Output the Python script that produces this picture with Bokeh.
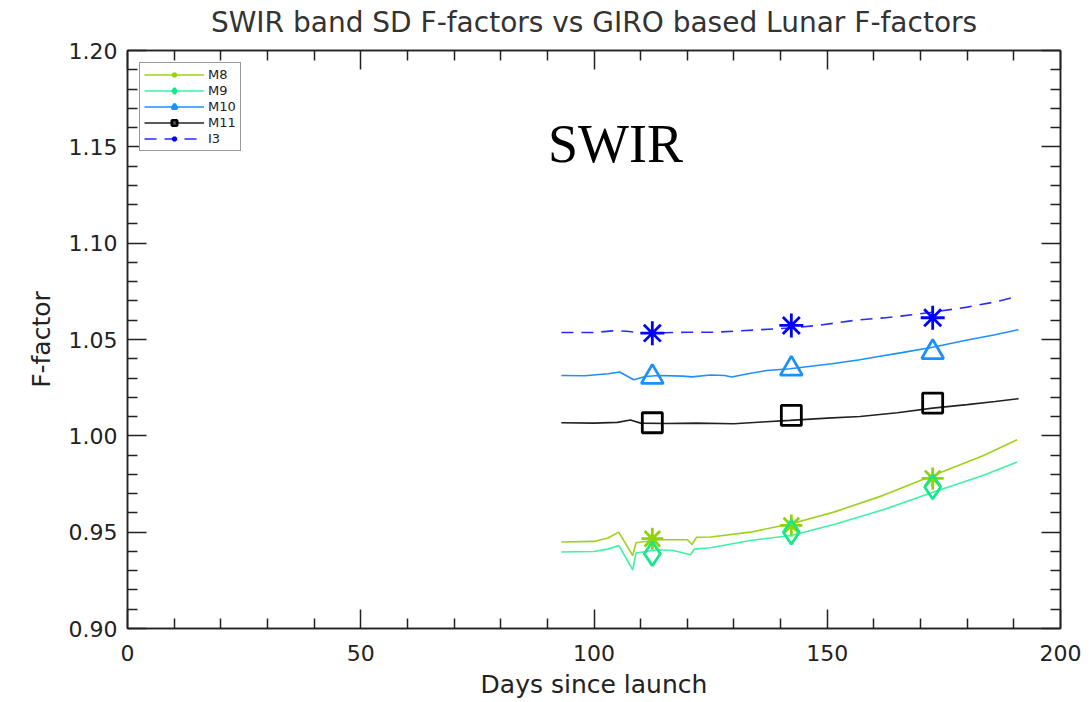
from bokeh.plotting import figure
from bokeh.models import (Range1d, LinearAxis, FixedTicker, PrintfTickFormatter,
                          Legend, LegendItem, ColumnDataSource, CustomLabelingPolicy)
from bokeh.core.properties import value
from bokeh.embed import file_html
from bokeh.resources import INLINE

# ---------------- data ----------------
title_text = "SWIR band SD F-factors vs GIRO based Lunar F-factors"
x_label = "Days since launch"
y_label = "F-factor"
band_names = ["M8", "M9", "M10", "M11", "I3"]

x_major_ticks = [0, 50, 100, 150, 200]
x_minor_ticks = [10, 20, 30, 40, 60, 70, 80, 90, 110, 120, 130, 140, 160, 170, 180, 190]
y_major_ticks = [0.90, 0.95, 1.00, 1.05, 1.10, 1.15, 1.20]
y_minor_ticks = [0.91, 0.92, 0.93, 0.94, 0.96, 0.97, 0.98, 0.99, 1.01, 1.02, 1.03, 1.04,
                 1.06, 1.07, 1.08, 1.09, 1.11, 1.12, 1.13, 1.14, 1.16, 1.17, 1.18, 1.19]

# SD based F-factor trends (days since launch, F-factor)
m8_days = [93, 100, 103, 105.3, 108.3, 109, 114, 120, 121, 122, 125, 133.5, 142.3, 151.4, 162, 172.8, 183.5, 190.7]
m8_vals = [0.9449, 0.9452, 0.9470, 0.9500, 0.9379, 0.9445, 0.9461, 0.9461, 0.9436, 0.9474, 0.9475, 0.9500, 0.9544, 0.9604, 0.9691, 0.9795, 0.9898, 0.9980]

m9_days = [93, 100, 103, 105.3, 108.3, 109, 113.6, 117, 120.7, 121.5, 125, 133.5, 142.3, 151.4, 162, 172.8, 183.5, 190.7]
m9_vals = [0.9397, 0.9400, 0.9412, 0.9431, 0.9305, 0.9392, 0.9409, 0.9405, 0.9383, 0.9412, 0.9419, 0.9457, 0.9483, 0.9540, 0.9616, 0.9708, 0.9795, 0.9864]

m10_days = [93, 98, 103, 105.5, 108.5, 111, 114, 119, 121, 125, 128, 129.5, 133, 137, 142, 151, 157, 161, 166, 172.6, 180, 186, 191]
m10_vals = [1.0313, 1.0312, 1.0322, 1.0331, 1.0291, 1.0308, 1.0313, 1.0310, 1.0306, 1.0316, 1.0313, 1.0305, 1.0322, 1.0339, 1.0348, 1.0374, 1.0395, 1.0412, 1.0432, 1.0460, 1.0497, 1.0525, 1.0551]

m11_days = [93, 100, 105, 107.8, 110, 115, 122, 130, 136, 142, 150, 157, 165, 172.6, 180, 186, 191]
m11_vals = [1.0068, 1.0066, 1.0070, 1.0082, 1.0066, 1.0064, 1.0066, 1.0063, 1.0072, 1.0080, 1.0092, 1.0100, 1.0120, 1.0144, 1.0162, 1.0178, 1.0193]

i3_days = [93, 100, 104, 107, 110, 115, 120, 126, 135, 142, 148, 156, 162, 167, 172, 180, 186, 191]
i3_vals = [1.0536, 1.0536, 1.0545, 1.0543, 1.0534, 1.0535, 1.0538, 1.0538, 1.0550, 1.0560, 1.0573, 1.0600, 1.0612, 1.0625, 1.0640, 1.0668, 1.0695, 1.0725]

# GIRO lunar based F-factors
lunar_days = [112.5, 142.3, 172.6]
m8_lunar = [0.9466, 0.9535, 0.9779]
m9_lunar = [0.9388, 0.9500, 0.9734]
m10_lunar = [1.0305, 1.0348, 1.0434]
m11_lunar = [1.0068, 1.0106, 1.0170]
i3_lunar = [1.0533, 1.0573, 1.0613]

annotation_text = "SWIR"
annotation_x = [104.6]
annotation_y = [1.1517]

# ---------------- figure ----------------
W, H = 1089, 702
p = figure(width=W, height=H, output_backend="svg", toolbar_location=None,
           x_range=Range1d(0, 200), y_range=Range1d(0.90, 1.20),
           min_border_left=127, min_border_right=29, min_border_top=50, min_border_bottom=74)
p.xgrid.visible = False
p.ygrid.visible = False
p.outline_line_color = "#222222"
p.outline_line_width = 1.5
p.background_fill_color = "white"
p.border_fill_color = "white"

tick_font = "DejaVu Sans"
tick_color = "#222222"

no_labels = CustomLabelingPolicy(code="""
for (const i of indices) { indices.unset(i) }
return indices
""")

def style_axis(ax, show_labels):
    ax.major_tick_in = 19
    ax.major_tick_out = 0
    ax.minor_tick_in = 10
    ax.minor_tick_out = 0
    ax.major_tick_line_color = "#222222"
    ax.minor_tick_line_color = "#222222"
    ax.major_tick_line_width = 1.5
    ax.minor_tick_line_width = 1.5
    ax.axis_line_color = "#222222"
    ax.axis_line_width = 1.5
    if show_labels:
        ax.major_label_text_font = tick_font
        ax.major_label_text_font_size = "22px"
        ax.major_label_text_color = tick_color
        ax.axis_label_text_font = tick_font
        ax.axis_label_text_font_size = "25px"
        ax.axis_label_text_font_style = "normal"
        ax.axis_label_text_color = tick_color
    else:
        ax.major_label_policy = no_labels
        ax.major_label_standoff = 0

p.xaxis.ticker = FixedTicker(ticks=x_major_ticks, minor_ticks=x_minor_ticks)
p.yaxis.ticker = FixedTicker(ticks=y_major_ticks, minor_ticks=y_minor_ticks)
p.yaxis.formatter = PrintfTickFormatter(format="%.2f")
p.xaxis.axis_label = x_label
p.yaxis.axis_label = y_label
style_axis(p.xaxis[0], True)
style_axis(p.yaxis[0], True)
p.xaxis.major_label_standoff = 16
p.xaxis.axis_label_standoff = 6
p.yaxis.major_label_standoff = 10
p.yaxis.axis_label_standoff = 10

top_ax = LinearAxis(ticker=FixedTicker(ticks=x_major_ticks, minor_ticks=x_minor_ticks))
right_ax = LinearAxis(ticker=FixedTicker(ticks=y_major_ticks, minor_ticks=y_minor_ticks))
style_axis(top_ax, False)
style_axis(right_ax, False)
p.add_layout(top_ax, "above")
p.add_layout(right_ax, "right")

p.title.text = title_text
p.title.align = "center"
p.title.text_font = tick_font
p.title.text_font_size = "28px"
p.title.text_font_style = "normal"
p.title.text_color = "#333333"
p.title.standoff = 2

# ---------------- series ----------------
series = [
    ("M8", m8_days, m8_vals, m8_lunar, "#9ed11c", "#8fd400", "asterisk", 22, "solid"),
    ("M9", m9_days, m9_vals, m9_lunar, "#3ef2a4", "#14e88a", "diamond", 24, "solid"),
    ("M10", m10_days, m10_vals, m10_lunar, "#1e8fff", "#1e8fff", "triangle", 22, "solid"),
    ("M11", m11_days, m11_vals, m11_lunar, "#222222", "#000000", "square", 20, "solid"),
    ("I3", i3_days, i3_vals, i3_lunar, "#2a2aff", "#0000ff", "asterisk", 24, "12 8"),
]

items = []
for name, days, vals, lunar, lcol, mcol, marker, msize, dash in series:
    src = ColumnDataSource(dict(x=days, y=vals))
    ln = p.line("x", "y", source=src, line_color=lcol, line_width=1.6, line_dash=dash)
    msrc = ColumnDataSource(dict(x=lunar_days, y=lunar))
    sc = p.scatter("x", "y", source=msrc, marker=marker, size=msize, line_color=mcol,
                   fill_color=None, line_width=2.8)
    items.append(LegendItem(label=name, renderers=[ln, sc]))

legend = Legend(items=items, location="top_left", margin=12)
legend.glyph_width = 60
legend.glyph_height = 13
legend.label_height = 13
legend.spacing = 1
legend.padding = 4
legend.label_standoff = 4
legend.label_text_font = tick_font
legend.label_text_font_size = "13px"
legend.label_text_color = "#222222"
legend.border_line_color = "#333333"
legend.border_line_width = 1.5
legend.background_fill_color = "white"
legend.background_fill_alpha = 1.0
p.add_layout(legend)

p.text(x=annotation_x, y=annotation_y, text=[annotation_text], text_font=value("Liberation Serif"),
       text_font_size="54px", text_align="center", text_baseline="middle", text_color="black")

open("out.html", "w").write(file_html(p, INLINE))
